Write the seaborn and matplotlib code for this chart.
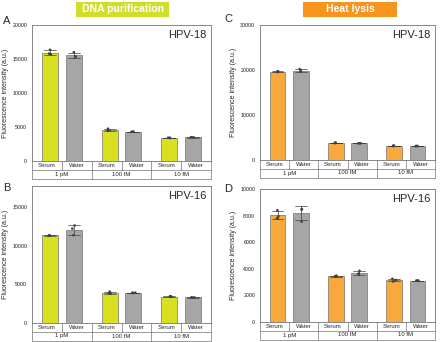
import matplotlib as mpl
mpl.use('Agg')
import matplotlib.pyplot as plt
from matplotlib.patches import Rectangle
from matplotlib.ticker import MultipleLocator, AutoMinorLocator
import numpy as np
import pandas as pd
import seaborn as sns

np.random.seed(3)

concentrations = ['1 pM', '100 fM', '10 fM']
media = ['Serum', 'Water']

# three replicates per bar, order: (1 pM serum, 1 pM water, 100 fM serum, ...)
a_vals = [[16350, 15700, 15800], [16000, 15300, 15400],
          [4750, 4450, 4450], [4300, 4280, 4320],
          [3380, 3420, 3400], [3450, 3500, 3480]]
b_vals = [[11280, 11350, 11320], [12600, 11350, 12200],
          [4050, 3800, 3850], [3900, 3880, 3920],
          [3400, 3450, 3420], [3300, 3290, 3310]]
c_vals = [[19700, 19550, 19600], [20200, 19600, 19700],
          [3800, 3750, 3850], [3700, 3720, 3680],
          [3150, 3200, 3100], [3100, 3120, 3080]]
d_vals = [[8400, 7800, 7950], [8500, 8450, 7550],
          [3450, 3480, 3420], [3850, 3600, 3650],
          [3250, 3050, 3150], [3120, 3100, 3110]]

yellow = '#d9e021'
orange = '#f9a93b'
gray = '#a6a6a6'


def make_df(vals):
    rows = []
    i = 0
    for conc in concentrations:
        for med in media:
            for v in vals[i]:
                rows.append({'conc': conc, 'medium': med, 'value': v})
            i += 1
    return pd.DataFrame(rows)


def draw_table(ax):
    tr = ax.get_xaxis_transform()
    h = ax.get_window_extent().height
    r1 = -8.5 / h
    r2 = -17.5 / h
    kw = dict(color='0.45', lw=0.5, transform=tr, clip_on=False)
    ax.plot([-0.5, 2.5], [r1, r1], **kw)
    ax.plot([-0.5, 2.5], [r2, r2], **kw)
    ax.plot([-0.5, -0.5], [0, r2], **kw)
    ax.plot([2.5, 2.5], [0, r2], **kw)
    for b in [0.5, 1.5]:
        ax.plot([b, b], [0, r2], **kw)
    for g, conc in enumerate(concentrations):
        ax.plot([g, g], [0, r1], **kw)
        ax.text(g - 0.25, r1 / 2, 'Serum', transform=tr, ha='center', va='center', fontsize=4.3)
        ax.text(g + 0.25, r1 / 2, 'Water', transform=tr, ha='center', va='center', fontsize=4.3)
        ax.text(g, (r1 + r2) / 2, conc, transform=tr, ha='center', va='center', fontsize=4.3)


def panel(fig, rect, vals, color, ymax, ystep, label, letter, letter_xy):
    ax = fig.add_axes(rect)
    df = make_df(vals)
    sns.barplot(data=df, x='conc', y='value', hue='medium', order=concentrations,
                hue_order=media, palette=[color, gray], saturation=1, errorbar='sd',
                capsize=0.4, err_kws={'linewidth': 0.5, 'color': '0.25'}, gap=0.33,
                edgecolor='0.45', linewidth=0.5, legend=False, ax=ax)
    sns.stripplot(data=df, x='conc', y='value', hue='medium', order=concentrations,
                  hue_order=media, dodge=True, jitter=0.07, palette=['0.25', '0.25'],
                  size=1.9, legend=False, ax=ax)
    ax.set_xlim(-0.5, 2.5)
    ax.set_ylim(0, ymax)
    ax.yaxis.set_major_locator(MultipleLocator(ystep))
    ax.yaxis.set_minor_locator(AutoMinorLocator(2))
    ax.set_xticks([])
    ax.set_xlabel('')
    ax.set_ylabel('Fluorescence intensity (a.u.)', fontsize=5, labelpad=2)
    ax.tick_params(axis='y', direction='out', length=2, width=0.5, labelsize=3.8, pad=1.5,
                   colors='0.3', labelcolor='0.1')
    ax.tick_params(axis='y', which='minor', direction='out', length=1.2, width=0.4, colors='0.3')
    for s in ax.spines.values():
        s.set_visible(True)
        s.set_color('0.45')
        s.set_linewidth(0.6)
    ax.text(0.975, 0.925, label, transform=ax.transAxes, ha='right', va='center', fontsize=8)
    fig.text(letter_xy[0] / 440, 1 - letter_xy[1] / 342, letter, ha='left', va='center', fontsize=8)
    draw_table(ax)
    return ax


sns.set_style('white')
plt.rcParams['font.family'] = ['Liberation Sans', 'DejaVu Sans']

fig = plt.figure(figsize=(4.4, 3.42), dpi=100)

panel(fig, [32 / 440, 1 - 161 / 342, 179 / 440, 136 / 342], a_vals, yellow, 20000, 5000,
      'HPV-18', 'A', (3, 21))
panel(fig, [32 / 440, 1 - 323 / 342, 179 / 440, 137 / 342], b_vals, yellow, 17700, 5000,
      'HPV-16', 'B', (3, 188))
panel(fig, [260 / 440, 1 - 160 / 342, 175 / 440, 135 / 342], c_vals, orange, 30000, 10000,
      'HPV-18', 'C', (224, 19))
panel(fig, [260 / 440, 1 - 322 / 342, 175 / 440, 133 / 342], d_vals, orange, 10000, 2000,
      'HPV-16', 'D', (224, 189))

for x0, x1, c, txt in [(76, 169, '#d2dd2a', 'DNA purification'), (303, 397, '#f7941d', 'Heat lysis')]:
    fig.patches.append(Rectangle((x0 / 440, 1 - 17 / 342), (x1 - x0) / 440, 15 / 342,
                                 transform=fig.transFigure, facecolor=c, edgecolor='none'))
    fig.text((x0 + x1) / 2 / 440, 1 - 9.5 / 342, txt, ha='center', va='center',
             color='white', fontsize=7.5, fontweight='bold')

fig.savefig('out.png', dpi=100)
